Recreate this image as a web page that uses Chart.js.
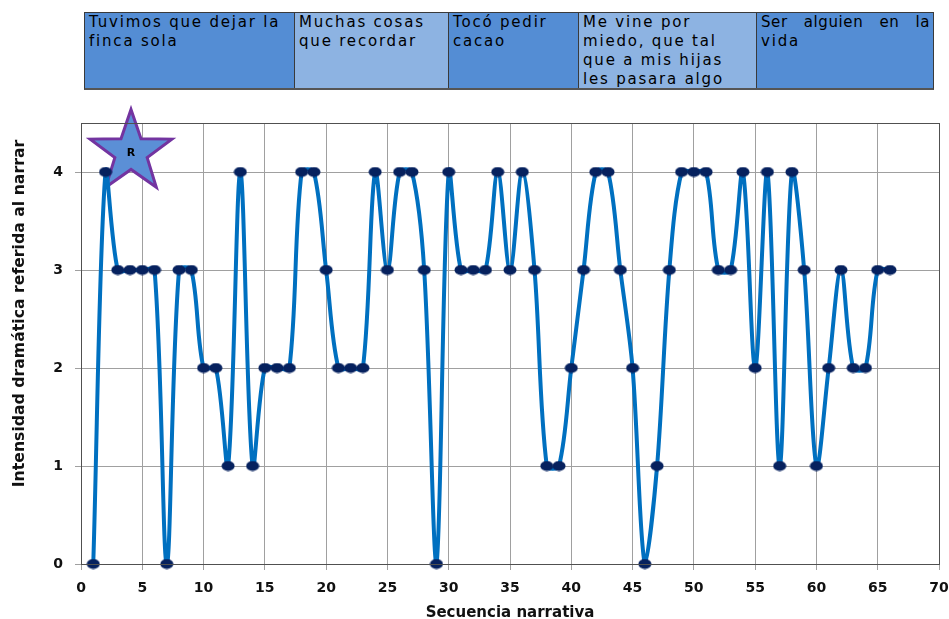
<!DOCTYPE html>
<html>
<head>
<meta charset="utf-8">
<script src="https://cdn.jsdelivr.net/npm/chart.js@4.4.1/dist/chart.umd.min.js"></script>
<style>
  html, body { margin: 0; padding: 0; background: #fff; }
  #wrap { position: relative; width: 949px; height: 619px; }
  #chart { position: absolute; left: 0; top: 0; }
  #header { position: absolute; left: 84px; top: 12px; height: 75px; display: flex;
            border: 1px solid #3a3a3a; border-bottom: 2px solid #555; }
  #header > div { box-sizing: border-box; height: 100%; padding: 0 3px 0 4px;
                border-right: 1px solid #3a3a3a; font-family: "DejaVu Sans", sans-serif;
                font-size: 15px; letter-spacing: 1.8px; line-height: 19px; color: #000;
                overflow: hidden; white-space: nowrap; }
  #header > div:last-child { border-right: none; }
  #header .dark { background: #548dd4; }
  #header .light { background: #8db3e2; }
  #header .just > div:first-child { text-align: justify; text-align-last: justify; letter-spacing: 0.6px; }
</style>
</head>
<body>
<div id="wrap">
  <canvas id="chart" width="949" height="619"></canvas>
  <div id="header"></div>
</div>
<script>
'use strict'

// secuencia narrativa (x) e intensidad (y)
const secuencia = [1, 2, 3, 4, 5, 6, 7, 8, 9, 10, 11, 12, 13, 14, 15, 16, 17, 18, 19, 20,
                   21, 22, 23, 24, 25, 26, 27, 28, 29, 30, 31, 32, 33, 34, 35, 36, 37, 38, 39, 40,
                   41, 42, 43, 44, 45, 46, 47, 48, 49, 50, 51, 52, 53, 54, 55, 56, 57, 58, 59, 60,
                   61, 62, 63, 64, 65, 66]
const intensidad = [0, 4, 3, 3, 3, 3, 0, 3, 3, 2, 2, 1, 4, 1, 2, 2, 2, 4, 4, 3,
                    2, 2, 2, 4, 3, 4, 4, 3, 0, 4, 3, 3, 3, 4, 3, 4, 3, 1, 1, 2,
                    3, 4, 4, 3, 2, 0, 1, 3, 4, 4, 4, 3, 3, 4, 2, 4, 1, 4, 3, 1,
                    2, 3, 2, 2, 3, 3]

const xTicks = [0, 5, 10, 15, 20, 25, 30, 35, 40, 45, 50, 55, 60, 65, 70]
const yTicks = [0, 1, 2, 3, 4]

const xTitle = 'Secuencia narrativa'
const yTitle = 'Intensidad dramática referida al narrar'

// cabecera: texto de cada episodio (lineas) y ancho de la celda
const episodios = [
    ['Tuvimos que dejar la', 'finca sola'],
    ['Muchas cosas', 'que recordar'],
    ['Tocó pedir', 'cacao'],
    ['Me vine por', 'miedo, que tal', 'que a mis hijas', 'les pasara algo'],
    ['Ser alguien en la', 'vida']
]
const episodioAncho = [210, 154, 130, 178, 176]
const episodioEstilo = ['dark', 'light', 'dark', 'light', 'dark just']

// estrella "R" ubicada en coordenadas del grafico
const estrella = { x: 4.08, y: 4.2, label: 'R' }

let header = document.querySelector('#header')
episodios.forEach((lineas, i) => {
    let d = document.createElement('div')
    d.className = episodioEstilo[i]
    d.style.width = episodioAncho[i] + 'px'
    lineas.forEach(t => {
        let l = document.createElement('div')
        l.textContent = t
        d.appendChild(l)
    })
    header.appendChild(d)
})

// marcador eliptico como en el original
function makeMarker() {
    let c = document.createElement('canvas')
    c.width = 14
    c.height = 11
    let g = c.getContext('2d')
    g.fillStyle = '#06215e'
    g.beginPath()
    g.ellipse(7, 5.5, 6.5, 5, 0, 0, Math.PI * 2)
    g.fill()
    return c
}

const starPlugin = {
    id: 'star',
    beforeDatasetsDraw(chart) {
        let ctx = chart.ctx
        let cx = chart.scales.x.getPixelForValue(estrella.x)
        let cy = chart.scales.y.getPixelForValue(estrella.y)
        let R = 43, r = 17
        ctx.save()
        ctx.beginPath()
        for (let i = 0; i < 10; i++) {
            let a = -Math.PI / 2 + i * Math.PI / 5
            let rad = i % 2 === 0 ? R : r
            let px = cx + rad * Math.cos(a), py = cy + rad * Math.sin(a)
            if (i === 0) ctx.moveTo(px, py)
            else ctx.lineTo(px, py)
        }
        ctx.closePath()
        ctx.fillStyle = '#5b8fd6'
        ctx.fill()
        ctx.lineWidth = 3
        ctx.strokeStyle = '#7334a0'
        ctx.stroke()
        ctx.fillStyle = '#000'
        ctx.font = 'bold 11px "DejaVu Sans"'
        ctx.textAlign = 'center'
        ctx.textBaseline = 'middle'
        ctx.fillText(estrella.label, cx, cy + 1)
        ctx.restore()
    },
    afterDraw(chart) {
        let a = chart.chartArea
        let ctx = chart.ctx
        ctx.save()
        ctx.strokeStyle = '#505050'
        ctx.lineWidth = 1
        ctx.strokeRect(Math.round(a.left) + 0.5, Math.round(a.top) + 0.5,
                       Math.round(a.right - a.left), Math.round(a.bottom - a.top))
        // titulo del eje y, algo desplazado hacia arriba como en el original
        ctx.translate(20, (a.top + a.bottom) / 2 - 30)
        ctx.rotate(-Math.PI / 2)
        ctx.fillStyle = '#111'
        ctx.font = 'bold 15.7px "DejaVu Sans"'
        ctx.textAlign = 'center'
        ctx.textBaseline = 'middle'
        ctx.fillText(yTitle, 0, 0)
        ctx.restore()
    }
}

const tickFont = { family: '"DejaVu Sans"', size: 14, weight: 'bold' }
const titleFont = { family: '"DejaVu Sans"', size: 15, weight: 'bold' }

new Chart(document.querySelector('#chart').getContext('2d'), {
    type: 'line',
    data: {
        datasets: [{
            data: secuencia.map((x, i) => ({ x: x, y: intensidad[i] })),
            borderColor: '#0070c0',
            borderWidth: 4,
            tension: 0.33,
            pointStyle: makeMarker(),
            pointRadius: 6,
            clip: false
        }]
    },
    options: {
        responsive: false,
        animation: false,
        layout: { padding: { top: 123, right: 10, left: 0, bottom: 0 } },
        plugins: { legend: { display: false }, tooltip: { enabled: false } },
        scales: {
            x: {
                type: 'linear',
                min: 0,
                max: 70,
                afterBuildTicks: s => { s.ticks = xTicks.map(v => ({ value: v })) },
                afterFit: s => { s.height = 55; s.paddingLeft = 0; s.paddingRight = 0 },
                grid: { color: '#a0a0a0', tickLength: 6 },
                border: { color: '#808080' },
                ticks: { color: '#111', font: tickFont, padding: 10, maxRotation: 0 },
                title: { display: true, text: xTitle, color: '#111',
                         font: titleFont, padding: { top: 0, bottom: -3 } }
            },
            y: {
                min: 0,
                max: 4.5,
                afterBuildTicks: s => { s.ticks = yTicks.map(v => ({ value: v })) },
                afterFit: s => { s.width = 81; s.paddingTop = 0; s.paddingBottom = 0 },
                grid: { color: '#a0a0a0', tickLength: 6 },
                border: { color: '#808080' },
                ticks: { color: '#111', font: tickFont, padding: 12 },
                title: { display: false }
            }
        }
    },
    plugins: [starPlugin]
})
</script>
</body>
</html>
